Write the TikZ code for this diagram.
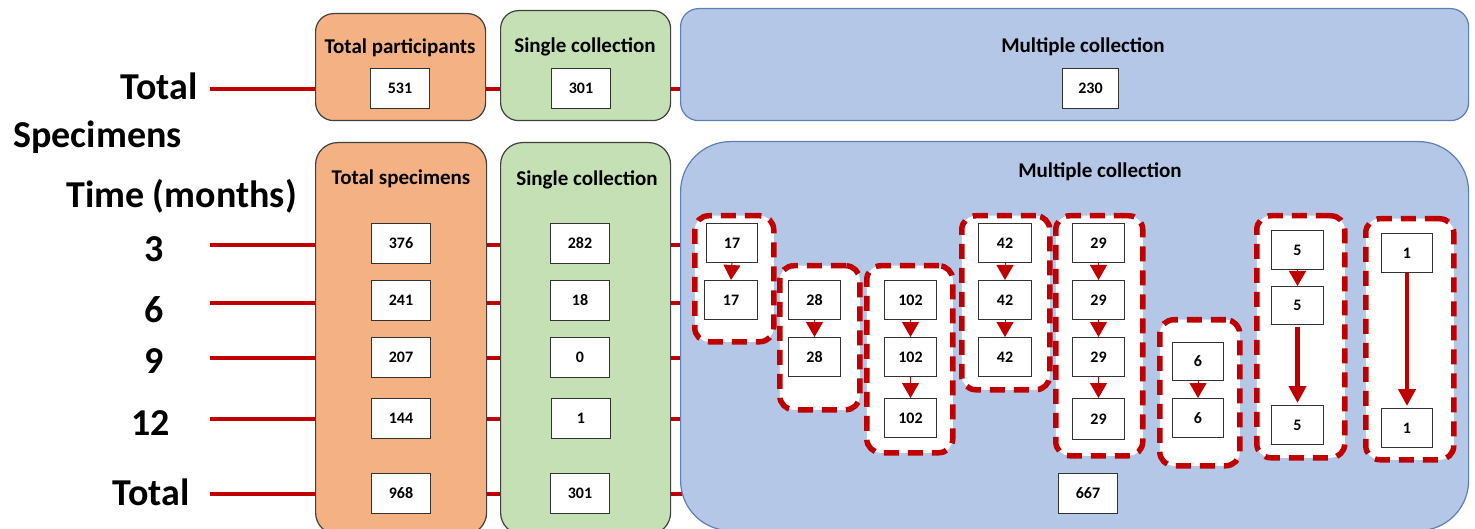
\documentclass[tikz,border=0pt]{standalone}
\usepackage{fontspec}
\setmainfont{Carlito}
\usetikzlibrary{arrows.meta,backgrounds}
\definecolor{dred}{RGB}{192,0,0}
\definecolor{orf}{RGB}{244,177,131}
\definecolor{grf}{RGB}{197,224,180}
\definecolor{blf}{RGB}{180,199,231}
\definecolor{bld}{RGB}{95,125,185}
\begin{document}
\begin{tikzpicture}[x=1pt,y=-1pt,
  panel/.style={draw=black!75, line width=1.2pt, anchor=north west, inner sep=0pt},
  ttl/.style={font=\bfseries\fontsize{21}{24}\selectfont, inner sep=0pt},
  lab/.style={font=\bfseries\fontsize{38}{42}\selectfont, anchor=base east, inner sep=0pt},
  num/.style={draw=black!80, line width=1pt, fill=white, anchor=north west, minimum width=59pt, minimum height=40pt, inner sep=0pt, font=\bfseries\fontsize{16}{18}\selectfont},
  snum/.style={num, minimum width=52pt, minimum height=39pt},
  grp/.style={draw=dred, line width=5.5pt, dash pattern=on 15pt off 9pt, fill=white, rounded corners=14pt, anchor=north west, inner sep=0pt},
  link/.style={draw=dred, line width=4.5pt},
  tip/.style={-{Triangle[width=17pt,length=15pt]}, draw=dred, fill=dred, line width=1pt},
  longtip/.style={-{Triangle[width=17pt,length=17pt]}, draw=dred, fill=dred, line width=4.5pt}]
\useasboundingbox (0,0) rectangle (1475,529);
\clip (0,0) rectangle (1475,529);

% ---------- left labels ----------
\node[lab] (ltot) at (198,100) {Total};
\node[lab] (lspec) at (182,148) {Specimens};
\node[lab] (ltime) at (297,208) {Time (months)};
\node[lab] (l3) at (164,262) {3};
\node[lab] (l6) at (164,323) {6};
\node[lab] (l9) at (164,373) {9};
\node[lab] (l12) at (170,435) {12};
\node[lab] (lbt) at (190,505) {Total};

% ---------- top row panels ----------
\node[panel, fill=orf, rounded corners=18pt, minimum width=170pt, minimum height=107pt] (tp) at (315,13) {};
\node[panel, fill=grf, rounded corners=18pt, minimum width=170pt, minimum height=110pt] (ts) at (500,10) {};
\node[panel, fill=blf, draw=bld, rounded corners=18pt, minimum width=788pt, minimum height=112pt] (tm) at (680,8) {};
\node[ttl] (tpt) at (400,48) {Total participants};
\node[ttl] (tst) at (585,47) {Single collection};
\node[ttl] (tmt) at (1083,47) {Multiple collection};
\node[num] (n531) at (370,68) {531};
\node[num] (n301a) at (551,68) {301};
\node[num, minimum width=56pt] (n230) at (1062,68) {230};

% ---------- bottom panels ----------
\node[panel, fill=orf, rounded corners=22pt, minimum width=171pt, minimum height=392pt] (bp) at (315,142) {};
\node[panel, fill=grf, rounded corners=22pt, minimum width=170pt, minimum height=392pt] (bs) at (500,142) {};
\node[panel, fill=blf, draw=bld, rounded corners=50pt, minimum width=788pt, minimum height=389pt] (bm) at (680,141) {};
\node[ttl] (bpt) at (401,179) {Total specimens};
\node[ttl] (bst) at (587,180) {Single collection};
\node[ttl] (bmt) at (1100,172) {Multiple collection};

% orange column
\node[num] (o376) at (371,223) {376};
\node[num] (o241) at (371,280) {241};
\node[num] (o207) at (371,337) {207};
\node[num] (o144) at (371,398) {144};
\node[num] (o968) at (371,473) {968};
% green column
\node[num] (s282) at (550,223) {282};
\node[num] (s18) at (550,280) {18};
\node[num] (s0) at (550,337) {0};
\node[num] (s1) at (551,398) {1};
\node[num] (s301) at (550,473) {301};
\node[num] (m667) at (1058,473) {667};

% ---------- connector lines (behind panels) ----------
\coordinate (rt) at (210,89);
\coordinate (r3) at (210,245);
\coordinate (r6) at (210,303);
\coordinate (r9) at (210,358);
\coordinate (r12) at (210,419);
\coordinate (rb) at (210,494);
\begin{scope}[on background layer]
  \draw[link] (rt) -- (rt -| tm.center);
  \draw[link] (r3) -- (r3 -| bm.center);
  \draw[link] (r6) -- (r6 -| bm.center);
  \draw[link] (r9) -- (r9 -| bm.center);
  \draw[link] (r12) -- (r12 -| bm.center);
  \draw[link] (rb) -- (rb -| bm.center);
\end{scope}

% ---------- multiple-collection groups ----------
\node[grp, minimum width=79pt, minimum height=126pt] (g1) at (692,213) {};
\node[grp, minimum width=80pt, minimum height=144pt] (g2) at (777,263) {};
\node[grp, minimum width=86pt, minimum height=187pt] (g3) at (864,263) {};
\node[grp, minimum width=88pt, minimum height=174pt] (g4) at (959,213) {};
\node[grp, minimum width=87pt, minimum height=240pt] (g5) at (1053,213) {};
\node[grp, minimum width=80pt, minimum height=146pt] (g6) at (1157,317) {};
\node[grp, minimum width=88pt, minimum height=242pt] (g7) at (1254,213) {};
\node[grp, minimum width=88pt, minimum height=241pt] (g8) at (1363,216) {};

\node[snum, minimum width=51pt] (a1) at (706,223) {17};
\node[snum, minimum width=53pt] (a2) at (704,280) {17};

\node[snum] (b1) at (788,280) {28};
\node[snum] (b2) at (788,337) {28};

\node[snum] (c1) at (884,280) {102};
\node[snum] (c2) at (884,337) {102};
\node[snum] (c3) at (884,398) {102};

\node[snum, minimum width=53pt] (d1) at (978,223) {42};
\node[snum, minimum width=53pt] (d2) at (978,280) {42};
\node[snum, minimum width=53pt] (d3) at (978,337) {42};

\node[snum] (e1) at (1072,223) {29};
\node[snum] (e2) at (1072,280) {29};
\node[snum] (e3) at (1072,337) {29};
\node[snum, minimum height=41pt] (e4) at (1072,398) {29};

\node[snum, minimum width=51pt, minimum height=38pt] (f1) at (1172,342) {6};
\node[snum, minimum width=51pt] (f2) at (1172,398) {6};

\node[snum] (h1) at (1271,230) {5};
\node[snum, minimum height=38pt] (h2) at (1271,286) {5};
\node[snum] (h3) at (1271,405) {5};

\node[snum, minimum width=51pt] (k1) at (1381,233) {1};
\node[snum, minimum width=51pt] (k2) at (1381,408) {1};

% ---------- arrows ----------
\draw[tip] (a1.south) -- (a2.north);
\draw[tip] (b1.south) -- (b2.north);
\draw[tip] (c1.south) -- (c2.north);
\draw[tip] (c2.south) -- (c3.north);
\draw[tip] (d1.south) -- (d2.north);
\draw[tip] (d2.south) -- (d3.north);
\draw[tip] (e1.south) -- (e2.north);
\draw[tip] (e2.south) -- (e3.north);
\draw[tip] (e3.south) -- (e4.north);
\draw[tip] (f1.south) -- (f2.north);
\draw[tip] (h1.south) -- (h2.north);
\draw[longtip, shorten <=2pt, shorten >=2pt] (h2.south) -- (h3.north);
\draw[longtip, shorten >=2pt] (k1.south) -- (k2.north);
\end{tikzpicture}
\end{document}
